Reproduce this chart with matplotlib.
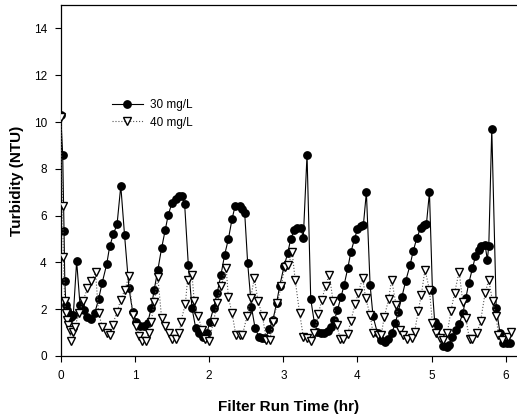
import matplotlib
matplotlib.use("Agg")
import matplotlib.pyplot as plt

plt.rcParams['font.family'] = ['Liberation Sans', 'DejaVu Sans']

# 30 mg/L series: filter run time (hr) and turbidity (NTU)
t_30 = [0.00, 0.027, 0.045, 0.055, 0.07, 0.09, 0.11, 0.14, 0.17, 0.215,
        0.26, 0.31, 0.36, 0.41, 0.46, 0.51, 0.56, 0.62, 0.66, 0.71,
        0.76, 0.81, 0.86, 0.92, 0.97, 1.02, 1.07, 1.12, 1.17, 1.22,
        1.26, 1.31, 1.36, 1.41, 1.45, 1.50, 1.55, 1.60, 1.64, 1.67,
        1.72, 1.77, 1.82, 1.87, 1.92, 1.97, 2.01, 2.06, 2.11, 2.16,
        2.21, 2.26, 2.31, 2.35, 2.41, 2.45, 2.48, 2.52, 2.57, 2.62,
        2.67, 2.71, 2.76, 2.81, 2.86, 2.91, 2.95, 3.01, 3.06, 3.10,
        3.15, 3.19, 3.24, 3.27, 3.32, 3.37, 3.42, 3.46, 3.51, 3.55,
        3.60, 3.64, 3.69, 3.73, 3.78, 3.82, 3.87, 3.91, 3.96, 4.00,
        4.05, 4.08, 4.12, 4.17, 4.21, 4.27, 4.32, 4.37, 4.41, 4.46,
        4.51, 4.55, 4.60, 4.65, 4.71, 4.75, 4.80, 4.85, 4.89, 4.93,
        4.97, 5.01, 5.04, 5.08, 5.15, 5.21, 5.24, 5.28, 5.33, 5.37,
        5.42, 5.46, 5.50, 5.55, 5.59, 5.64, 5.67, 5.72, 5.75, 5.77,
        5.81, 5.87, 5.92, 5.96, 6.01, 6.05]
y_30 = [10.3, 8.6, 5.35, 3.22, 2.2, 1.95, 1.8, 1.65, 1.75, 4.05,
        2.2, 1.95, 1.65, 1.6, 1.85, 2.42, 3.14, 3.92, 4.68, 5.2,
        5.64, 7.27, 5.19, 2.9, 1.9, 1.45, 1.28, 1.27, 1.4, 2.04,
        2.83, 3.69, 4.61, 5.4, 6.04, 6.54, 6.73, 6.83, 6.83, 6.51,
        3.9, 2.04, 1.19, 0.97, 0.83, 0.97, 1.47, 2.04, 2.71, 3.47,
        4.33, 5.0, 5.86, 6.4, 6.4, 6.29, 6.11, 3.97, 2.11, 1.19,
        0.83, 0.76, 0.76, 1.14, 1.54, 2.26, 2.97, 3.83, 4.4, 5.0,
        5.4, 5.47, 5.45, 5.05, 8.61, 2.43, 1.4, 1.04, 0.97, 0.97,
        1.07, 1.26, 1.54, 1.97, 2.54, 3.04, 3.76, 4.43, 5.0, 5.43,
        5.54, 5.61, 7.0, 3.04, 1.69, 0.97, 0.69, 0.61, 0.71, 0.97,
        1.4, 1.9, 2.54, 3.21, 3.9, 4.47, 5.04, 5.47, 5.61, 5.66,
        7.0, 2.83, 1.47, 1.29, 0.43, 0.37, 0.47, 0.83, 1.11, 1.37,
        1.83, 2.47, 3.11, 3.76, 4.26, 4.54, 4.69, 4.76, 4.1, 4.72,
        9.71, 2.04, 1.0, 0.57, 0.54, 0.54]

# 40 mg/L series
t_40 = [0.00, 0.027, 0.036, 0.054, 0.07, 0.09, 0.10, 0.12, 0.14, 0.16,
        0.19, 0.25, 0.30, 0.36, 0.41, 0.47, 0.51, 0.56, 0.62, 0.66,
        0.70, 0.76, 0.81, 0.86, 0.92, 0.97, 1.02, 1.06, 1.10, 1.15,
        1.19, 1.22, 1.26, 1.31, 1.36, 1.41, 1.46, 1.50, 1.55, 1.60,
        1.62, 1.68, 1.71, 1.77, 1.80, 1.85, 1.91, 1.95, 2.00, 2.06,
        2.11, 2.16, 2.23, 2.26, 2.31, 2.36, 2.41, 2.45, 2.51, 2.56,
        2.61, 2.66, 2.72, 2.77, 2.82, 2.86, 2.92, 2.97, 3.02, 3.07,
        3.12, 3.16, 3.22, 3.27, 3.32, 3.37, 3.42, 3.47, 3.52, 3.57,
        3.62, 3.67, 3.72, 3.77, 3.81, 3.87, 3.91, 3.97, 4.01, 4.07,
        4.11, 4.17, 4.21, 4.27, 4.32, 4.36, 4.42, 4.46, 4.52, 4.57,
        4.62, 4.67, 4.73, 4.77, 4.82, 4.86, 4.91, 4.97, 5.01, 5.06,
        5.11, 5.15, 5.21, 5.26, 5.31, 5.37, 5.42, 5.46, 5.51, 5.55,
        5.61, 5.66, 5.72, 5.77, 5.82, 5.87, 5.90, 5.95, 6.03, 6.07]
y_40 = [10.2, 6.4, 4.23, 2.33, 1.83, 1.54, 1.33, 1.11, 0.65, 1.04,
        1.26, 1.83, 2.33, 2.9, 3.19, 3.57, 1.83, 1.26, 0.97, 0.9,
        1.33, 1.9, 2.4, 2.8, 3.4, 1.75, 1.3, 0.85, 0.62, 0.65,
        1.0, 1.45, 2.3, 3.37, 1.61, 1.29, 0.97, 0.71, 0.71, 0.97,
        1.47, 2.23, 3.26, 3.47, 2.33, 1.69, 1.11, 0.71, 0.66, 1.47,
        2.26, 2.97, 3.76, 2.5, 1.83, 0.9, 0.9, 0.9, 1.69, 2.47,
        3.33, 2.33, 1.71, 0.69, 0.69, 1.47, 2.26, 2.97, 3.8, 3.9,
        4.43, 3.26, 1.83, 0.83, 0.78, 0.65, 1.0, 1.78, 2.4, 3.0,
        3.47, 2.37, 1.33, 0.71, 0.71, 0.95, 1.5, 2.24, 2.7, 3.33,
        2.47, 1.76, 0.97, 0.9, 0.9, 1.65, 2.43, 3.26, 2.19, 1.1,
        0.9, 0.72, 0.76, 1.04, 1.94, 2.61, 3.69, 2.83, 1.4, 0.97,
        0.76, 0.69, 0.97, 1.94, 2.71, 3.61, 2.29, 1.61, 0.71, 0.71,
        0.97, 1.5, 2.69, 3.26, 2.33, 1.69, 0.9, 0.69, 0.83, 1.04]

x_ticks = [0, 1, 2, 3, 4, 5, 6]
y_ticks = [0, 2, 4, 6, 8, 10, 12, 14]

fig = plt.figure(figsize=(5.17, 4.17), dpi=100)
ax = fig.add_axes([0.1174, 0.1463, 0.8826, 0.8417])

ax.plot(t_30, y_30, color='black', linestyle='-', linewidth=0.8,
        marker='o', markersize=5.3, markerfacecolor='black',
        markeredgecolor='black', label='30 mg/L', zorder=2)
ax.plot(t_40, y_40, color='#555555', linestyle=':', linewidth=0.8,
        marker='v', markersize=6, markerfacecolor='white',
        markeredgecolor='black', markeredgewidth=1.0,
        label='40 mg/L', zorder=3)

ax.set_xlim(0, 6.15)
ax.set_ylim(0, 15)
ax.set_xticks(x_ticks)
ax.set_yticks(y_ticks)
ax.tick_params(direction='out', length=4, width=0.8, labelsize=8.5, pad=6)
ax.spines['right'].set_visible(False)
for s in ['left', 'bottom', 'top']:
    ax.spines[s].set_linewidth(0.9)

ax.set_xlabel("Filter Run Time (hr)", fontsize=11, fontweight='bold', labelpad=13)
ax.set_ylabel("Turbidity (NTU)", fontsize=11, fontweight='bold', labelpad=7)

ax.legend(loc='upper left', bbox_to_anchor=(0.102, 0.745), frameon=False,
          fontsize=8.5, handlelength=2.6, handletextpad=0.6, labelspacing=0.45,
          borderaxespad=0)

fig.savefig("out.png", dpi=100)
